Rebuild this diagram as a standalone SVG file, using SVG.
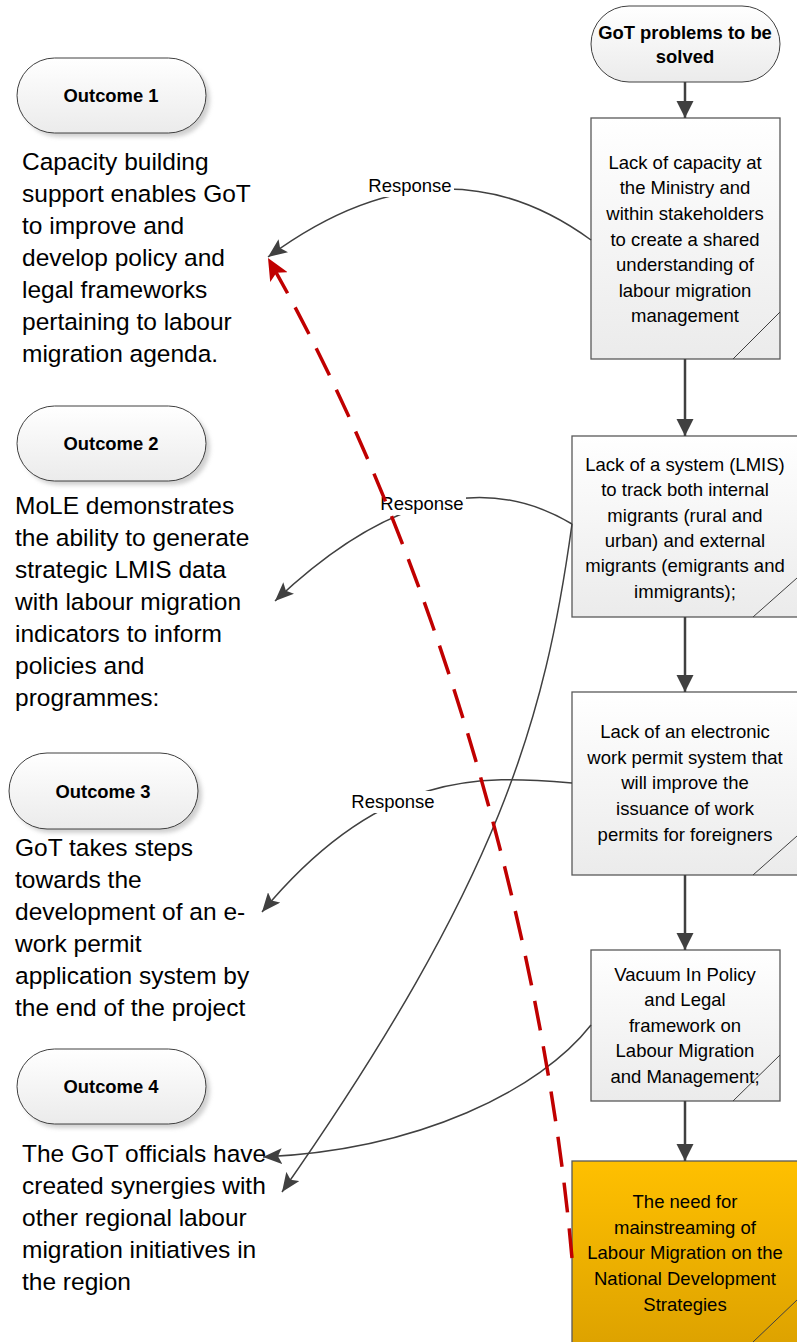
<svg xmlns="http://www.w3.org/2000/svg" width="797" height="1342" viewBox="0 0 797 1342">
<defs>
<linearGradient id="gGray" x1="0" y1="0" x2="0" y2="1"><stop offset="0" stop-color="#ffffff"/><stop offset="1" stop-color="#ebebeb"/></linearGradient>
<linearGradient id="gOrange" x1="0" y1="0" x2="0" y2="1"><stop offset="0" stop-color="#ffc000"/><stop offset="1" stop-color="#dda200"/></linearGradient>
<filter id="sh" x="-10%" y="-20%" width="130%" height="150%"><feGaussianBlur stdDeviation="2"/></filter>
<marker id="ag" markerUnits="userSpaceOnUse" markerWidth="20" markerHeight="16" refX="19" refY="8" orient="auto"><path d="M0,0 L19,8 L0,16 L4,8 z" fill="#404040"/></marker>
<marker id="av" markerUnits="userSpaceOnUse" markerWidth="18" markerHeight="18" refX="17" refY="8.5" orient="auto"><path d="M0,0 L17,8.5 L0,17 z" fill="#404040"/></marker>
<marker id="ar" markerUnits="userSpaceOnUse" markerWidth="24" markerHeight="20" refX="22" refY="10" orient="auto"><path d="M0,0 L22,10 L0,20 L5,10 z" fill="#c00000"/></marker>
</defs>
<style>
.box{fill:url(#gGray);stroke:#595959;stroke-width:1.3}
.pill{fill:url(#gGray);stroke:#404040;stroke-width:1}
.shadow{fill:#b0b0b0;filter:url(#sh);opacity:0.6}
.fold{fill:none;stroke:#404040;stroke-width:1}
.t{font-family:"Liberation Sans",Arial,sans-serif;font-size:18.5px;fill:#000;text-anchor:middle}
.tb{font-family:"Liberation Sans",Arial,sans-serif;font-size:18.4px;font-weight:bold;fill:#000;text-anchor:middle}
.big{font-family:"Liberation Sans",Arial,sans-serif;font-size:24.5px;fill:#000}
.conn{fill:none;stroke:#404040;stroke-width:1.5}
.vert{fill:none;stroke:#404040;stroke-width:2.5}
.lbl{font-family:"Liberation Sans",Arial,sans-serif;font-size:18.5px;fill:#000;text-anchor:middle}
</style>

<g id="problems">
<rect x="591" y="6" width="189" height="76" rx="38" ry="38" class="pill"/>
<text class="tb" x="685" y="39">GoT problems to be</text>
<text class="tb" x="685" y="63">solved</text>
</g>

<g id="box1">
<rect x="591" y="118" width="189" height="241" class="box"/>
<path d="M733,359 L780,312" class="fold"/>
<text class="t" x="685" y="169">Lack of capacity at</text>
<text class="t" x="685" y="194">the Ministry and</text>
<text class="t" x="685" y="220">within stakeholders</text>
<text class="t" x="685" y="246">to create a shared</text>
<text class="t" x="685" y="271">understanding of</text>
<text class="t" x="685" y="297">labour migration</text>
<text class="t" x="685" y="322">management</text>
</g>

<g id="box2">
<rect x="572" y="436" width="227" height="181" class="box"/>
<path d="M753,617 L797,578" class="fold"/>
<text class="t" x="685" y="471">Lack of a system (LMIS)</text>
<text class="t" x="685" y="496">to track both internal</text>
<text class="t" x="685" y="522">migrants (rural and</text>
<text class="t" x="685" y="547">urban) and external</text>
<text class="t" x="685" y="572">migrants (emigrants and</text>
<text class="t" x="685" y="598">immigrants);</text>
</g>

<g id="box3">
<rect x="572" y="692" width="227" height="183" class="box"/>
<path d="M753,875 L797,836" class="fold"/>
<text class="t" x="685" y="738">Lack of an electronic</text>
<text class="t" x="685" y="764">work permit system that</text>
<text class="t" x="685" y="789">will improve the</text>
<text class="t" x="685" y="815">issuance of work</text>
<text class="t" x="685" y="841">permits for foreigners</text>
</g>

<g id="box4">
<rect x="591" y="950" width="189" height="151" class="box"/>
<path d="M733,1101 L780,1055" class="fold"/>
<text class="t" x="685" y="981">Vacuum In Policy</text>
<text class="t" x="685" y="1006">and Legal</text>
<text class="t" x="685" y="1032">framework on</text>
<text class="t" x="685" y="1057">Labour Migration</text>
<text class="t" x="685" y="1083">and Management;</text>
</g>

<g id="box5">
<rect x="572" y="1161" width="227" height="185" fill="url(#gOrange)" stroke="#595959" stroke-width="1.3"/>
<path d="M753,1342 L797,1300" class="fold"/>
<text class="t" x="685" y="1208">The need for</text>
<text class="t" x="685" y="1234">mainstreaming of</text>
<text class="t" x="685" y="1259">Labour Migration on the</text>
<text class="t" x="685" y="1285">National Development</text>
<text class="t" x="685" y="1311">Strategies</text>
</g>

<g id="outcome1">
<rect x="21" y="62" width="189" height="75" rx="37.5" class="shadow"/>
<rect x="17" y="58" width="189" height="75" rx="37.5" class="pill"/>
<text class="tb" x="111" y="102">Outcome 1</text>
<text class="big" x="22" y="170">Capacity building</text>
<text class="big" x="22" y="202">support enables GoT</text>
<text class="big" x="22" y="234">to improve and</text>
<text class="big" x="22" y="266">develop policy and</text>
<text class="big" x="22" y="298">legal frameworks</text>
<text class="big" x="22" y="330">pertaining to labour</text>
<text class="big" x="22" y="362">migration agenda.</text>
</g>

<g id="outcome2">
<rect x="21" y="410" width="189" height="75" rx="37.5" class="shadow"/>
<rect x="17" y="406" width="189" height="75" rx="37.5" class="pill"/>
<text class="tb" x="111" y="450">Outcome 2</text>
<text class="big" x="15" y="514">MoLE demonstrates</text>
<text class="big" x="15" y="546">the ability to generate</text>
<text class="big" x="15" y="578">strategic LMIS data</text>
<text class="big" x="15" y="610">with labour migration</text>
<text class="big" x="15" y="642">indicators to inform</text>
<text class="big" x="15" y="674">policies and</text>
<text class="big" x="15" y="706">programmes:</text>
</g>

<g id="outcome3">
<rect x="13" y="757" width="189" height="76" rx="38" class="shadow"/>
<rect x="9" y="753" width="189" height="76" rx="38" class="pill"/>
<text class="tb" x="103" y="798">Outcome 3</text>
<text class="big" x="15" y="856">GoT takes steps</text>
<text class="big" x="15" y="888">towards the</text>
<text class="big" x="15" y="920">development of an e-</text>
<text class="big" x="15" y="952">work permit</text>
<text class="big" x="15" y="984">application system by</text>
<text class="big" x="15" y="1016">the end of the project</text>
</g>

<g id="outcome4">
<rect x="21" y="1053" width="189" height="75" rx="37.5" class="shadow"/>
<rect x="17" y="1049" width="189" height="75" rx="37.5" class="pill"/>
<text class="tb" x="111" y="1093">Outcome 4</text>
<text class="big" x="22" y="1162">The GoT officials have</text>
<text class="big" x="22" y="1194">created synergies with</text>
<text class="big" x="22" y="1226">other regional labour</text>
<text class="big" x="22" y="1258">migration initiatives in</text>
<text class="big" x="22" y="1290">the region</text>
</g>

<g id="connectors">
<path d="M685,82 L685,118" class="vert" marker-end="url(#av)"/>
<path d="M685,359 L685,436" class="vert" marker-end="url(#av)"/>
<path d="M685,617 L685,692" class="vert" marker-end="url(#av)"/>
<path d="M685,875 L685,950" class="vert" marker-end="url(#av)"/>
<path d="M685,1101 L685,1161" class="vert" marker-end="url(#av)"/>

<path d="M591,240 Q440,130 268,257" class="conn" marker-end="url(#ag)"/>
<path d="M572,524 Q440,445 275,601" class="conn" marker-end="url(#ag)"/>
<path d="M572,783 C480,775 380,770 262,912" class="conn" marker-end="url(#ag)"/>
<path d="M591,1025 C540,1090 420,1150 263,1157" class="conn" marker-end="url(#ag)"/>
<path d="M572,524 C545,720 500,880 282,1192" class="conn" marker-end="url(#ag)"/>

<rect x="367" y="175" width="87" height="22" fill="#fff"/>
<text class="lbl" x="410" y="192">Response</text>
<rect x="379" y="493" width="87" height="22" fill="#fff"/>
<text class="lbl" x="422" y="510">Response</text>
<rect x="350" y="791" width="87" height="22" fill="#fff"/>
<text class="lbl" x="393" y="808">Response</text>

<path d="M572,1258 C545,950 440,560 268,258" fill="none" stroke="#c00000" stroke-width="3.5" stroke-dasharray="30,16" marker-end="url(#ar)"/>
</g>
</svg>
